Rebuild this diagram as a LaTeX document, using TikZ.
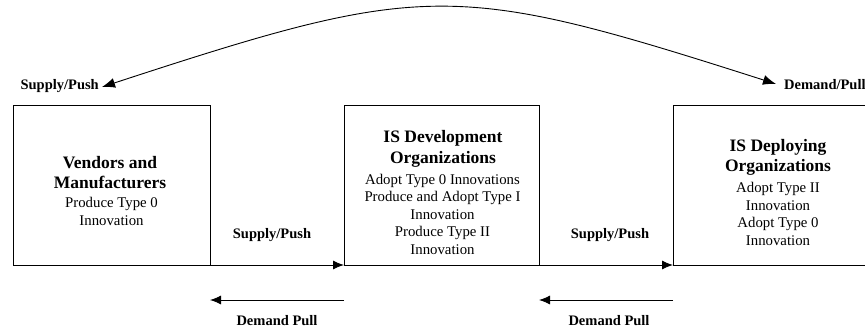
\documentclass[tikz,border=0pt]{standalone}
\usepackage{fontspec}
\setmainfont{Liberation Serif}
\usetikzlibrary{arrows.meta}
\begin{document}
\begin{tikzpicture}[x=1pt,y=-1pt,
  box/.style={draw, line width=0.9pt, minimum height=160pt, inner sep=0pt, outer sep=0pt},
  ttl/.style={align=center, inner sep=0pt, font=\fontsize{17.5}{20.5}\selectfont\bfseries},
  body/.style={align=center, inner sep=0pt, font=\fontsize{14.8}{17.5}\selectfont},
  lbl/.style={inner sep=0pt, font=\fontsize{14.5}{17}\selectfont\bfseries},
  arr/.style={line width=0.9pt, -{Latex[length=11pt,width=9pt]}},
  bigarr/.style={line width=0.9pt, {Latex[length=13pt,width=10pt]}-{Latex[length=13pt,width=10pt]}}]
\useasboundingbox (0,0) rectangle (865,332);

% boxes
\node[box, minimum width=197pt] (b1) at (111.5,185) {};
\node[box, minimum width=195pt] (b2) at (441.5,185) {};
\node[box, minimum width=195pt] (b3) at (770.5,185) {};

% box texts
\node[ttl] (t1) at (110,172.5) {Vendors and\\Manufacturers};
\node[body] (x1) at (111.5,211.5) {Produce Type 0\\Innovation};
\node[ttl] (t2) at (443,149) {IS Development\\Organizations};
\node[body] (x2) at (442.5,214) {Adopt Type 0 Innovations\\Produce and Adopt Type I\\Innovation\\Produce Type II\\Innovation};
\node[ttl] (t3) at (778,157.5) {IS Deploying\\Organizations};
\node[body] (x3) at (778,214) {Adopt Type II\\Innovation\\Adopt Type 0\\Innovation};

% supply/push arrows along the bottom edge
\draw[arr] (b1.south east) -- (b2.south west);
\draw[arr] (b2.south east) -- (b3.south west);
\node[lbl] (sp1) at (272,235) {Supply/Push};
\node[lbl] (sp2) at (610,235) {Supply/Push};

% demand pull arrows
\coordinate (d1s) at (344,300);
\coordinate (d1e) at (210,300);
\coordinate (d2s) at (673,300);
\coordinate (d2e) at (539,300);
\draw[arr] (d1s) -- (d1e);
\draw[arr] (d2s) -- (d2e);
\node[lbl] (dp1) at (277,321) {Demand Pull};
\node[lbl] (dp2) at (609,321) {Demand Pull};

% top curve
\node[lbl, anchor=east] (tl) at (99,86) {Supply/Push};
\node[lbl, anchor=west] (tr) at (784,85) {Demand/Pull};
\coordinate (cl) at (102,87);
\coordinate (cr) at (776,84);
\draw[bigarr] (cl) .. controls (426,-19) and (454,-19) .. (cr);
\end{tikzpicture}
\end{document}
